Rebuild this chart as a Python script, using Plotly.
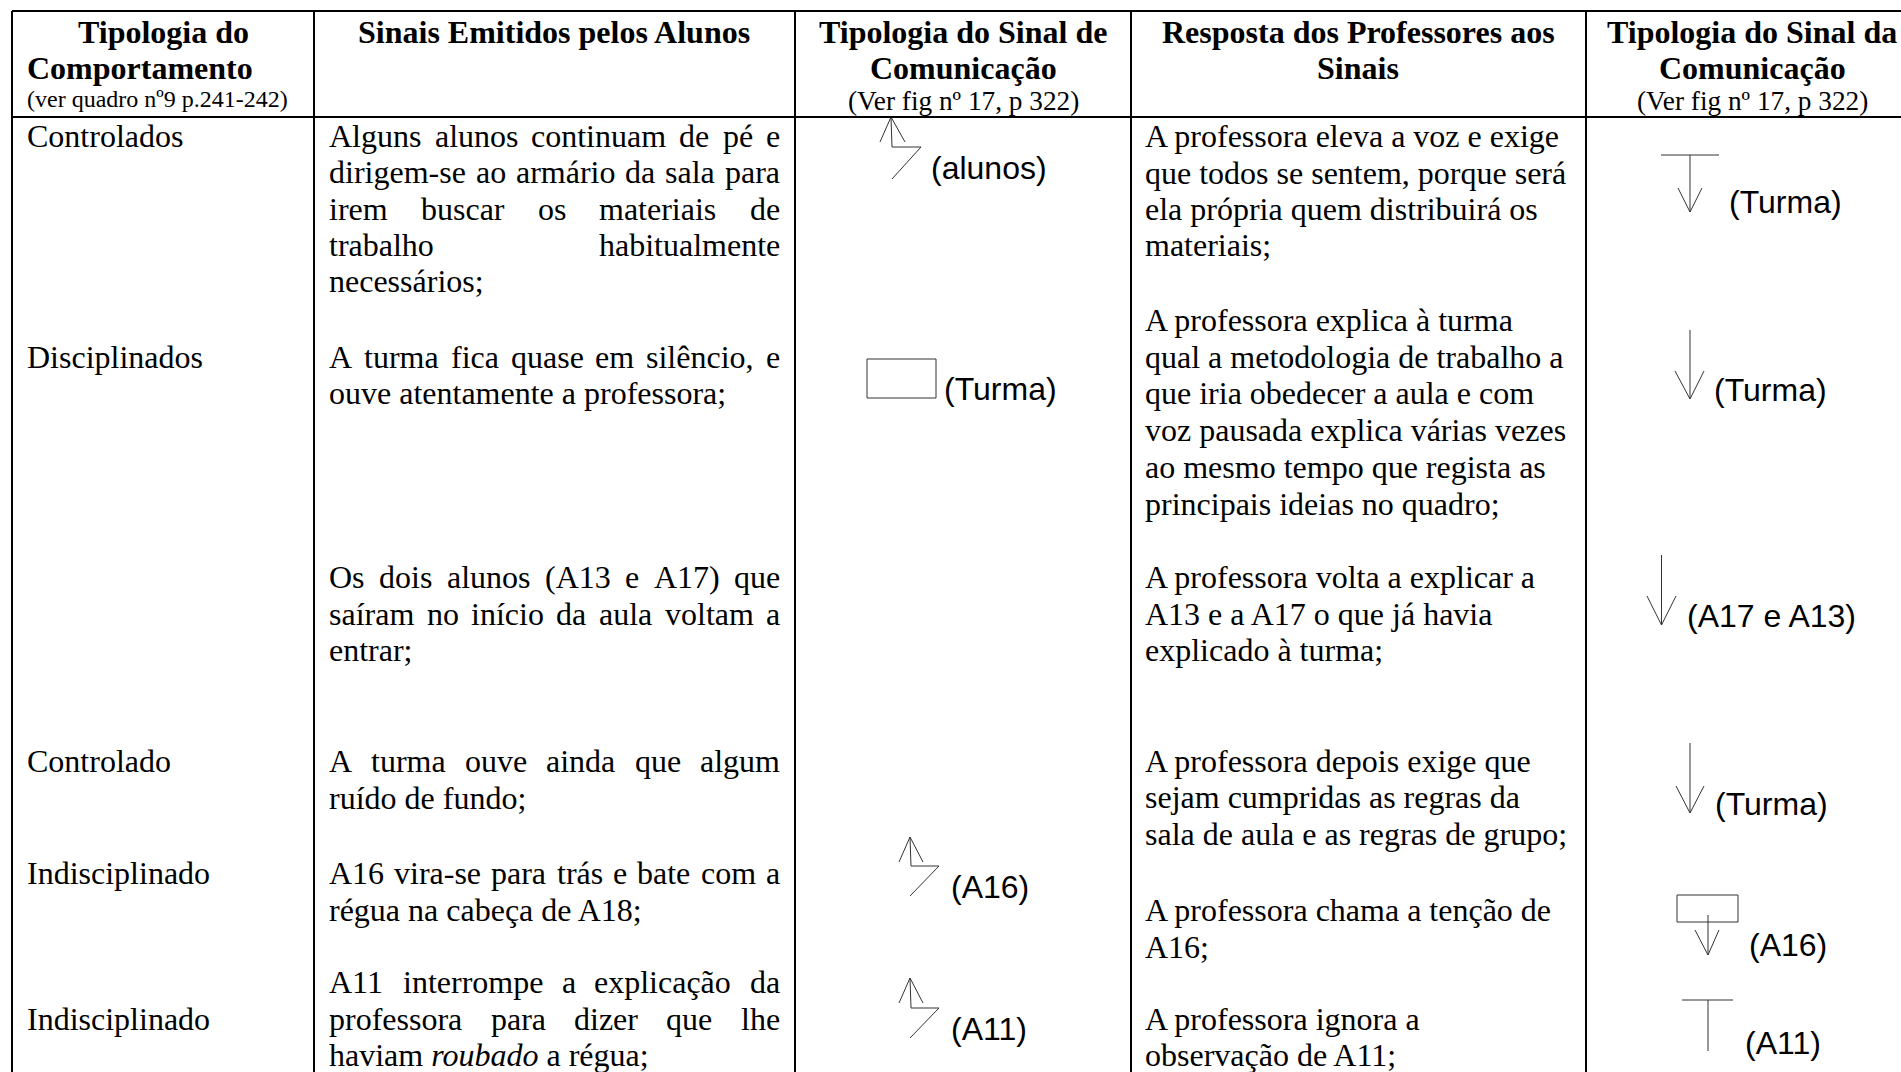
import unicodedata
import plotly.graph_objects as go

WIDTH, HEIGHT = 1901, 1072
SERIF, SANS = "Liberation Serif", "Liberation Sans"
INK = "#000000"
BODY_SIZE, SUB_SIZE, REF_SIZE, LABEL_SIZE = 32, 24, 27.3, 32

# --- table grid
COLUMN_EDGES = [12, 314, 795, 1131, 1586]
ROW_EDGES = [11, 117]

# --- header
HEAD_CENTERED = [
    ("Tipologia do", 163, 32), ("Sinais Emitidos pelos Alunos", 554, 32),
    ("Tipologia do Sinal de", 963, 32), ("Comunicação", 963, 68),
    ("Resposta dos Professores aos", 1358, 32), ("Sinais", 1358, 68),
    ("Tipologia do Sinal da", 1752, 32), ("Comunicação", 1752, 68),
]
HEAD_LEFT = [("Comportamento", 27, 68)]
SUB_HEAD = [("(ver quadro nº9 p.241-242)", 27, "left", 99, SUB_SIZE),
            ("(Ver fig nº 17, p 322)", 963, "center", 101, REF_SIZE),
            ("(Ver fig nº 17, p 322)", 1752, "center", 101, REF_SIZE)]

# --- column 1
BEHAVIOUR = ["Controlados", "Disciplinados", "Controlado", "Indisciplinado", "Indisciplinado"]
BEHAVIOUR_Y = [136, 357, 761, 873, 1019]
BEHAVIOUR_X = 27

# --- column 2: (text, justified?)
SIGNALS = [
    ("Alguns alunos continuam de pé e", True), ("dirigem-se ao armário da sala para", True),
    ("irem buscar os materiais de", True), ("trabalho habitualmente", True), ("necessários;", False),
    ("A turma fica quase em silêncio, e", True), ("ouve atentamente a professora;", False),
    ("Os dois alunos (A13 e A17) que", True), ("saíram no início da aula voltam a", True), ("entrar;", False),
    ("A turma ouve ainda que algum", True), ("ruído de fundo;", False),
    ("A16 vira-se para trás e bate com a", True), ("régua na cabeça de A18;", False),
    ("A11 interrompe a explicação da", True), ("professora para dizer que lhe", True),
    ("haviam <i>roubado</i> a régua;", False),
]
SIGNALS_Y = [136, 172, 209, 245, 281, 357, 393, 577, 614, 650, 761, 798, 873, 910, 982, 1019, 1055]
SIGNALS_LEFT, SIGNALS_RIGHT = 329, 780

# --- column 4
RESPONSES = [
    "A professora eleva a voz e exige", "que todos se sentem, porque será",
    "ela própria quem distribuirá os", "materiais;",
    "A professora explica à turma", "qual a metodologia de trabalho a", "que iria obedecer a aula e com",
    "voz pausada explica várias vezes", "ao mesmo tempo que regista as", "principais ideias no quadro;",
    "A professora volta a explicar a", "A13 e a A17 o que já havia", "explicado à turma;",
    "A professora depois exige que", "sejam cumpridas as regras da", "sala de aula e as regras de grupo;",
    "A professora chama a tenção de", "A16;",
    "A professora ignora a", "observação de A11;",
]
RESPONSES_Y = [136, 173, 209, 245, 320, 357, 393, 430, 467, 504, 577, 614, 650, 761, 797, 834, 910, 947, 1019, 1055]
RESPONSES_X = 1145

# --- sign labels (columns 3 and 5)
SIGN_LABELS = ["(alunos)", "(Turma)", "(A16)", "(A11)",
               "(Turma)", "(Turma)", "(A17 e A13)", "(Turma)", "(A16)", "(A11)"]
SIGN_LABEL_X = [931, 944, 951, 951, 1729, 1714, 1687, 1715, 1749, 1745]
SIGN_LABEL_Y = [168, 389, 887, 1029, 202, 390, 616, 804, 945, 1043]

# --- hand-drawn signs, one polyline each
SIGN_X = [
    [880, 891, 905], [891, 892, 921, 892],
    [867, 936, 936, 867, 867],
    [899, 910, 923], [910, 911, 939, 910],
    [899, 910, 923], [910, 911, 939, 910],
    [1661, 1719], [1690, 1690], [1678, 1690, 1702],
    [1690, 1690], [1675, 1690, 1704],
    [1661.5, 1661.5], [1647, 1661.5, 1676],
    [1690, 1690], [1676, 1690, 1704],
    [1677, 1738, 1738, 1677, 1677], [1708, 1708], [1695, 1708, 1719],
    [1682, 1733], [1708, 1708],
]
SIGN_Y = [
    [142, 117, 142], [117, 147, 147, 179],
    [359, 359, 398, 398, 359],
    [862, 837, 862], [837, 866, 866, 896],
    [1003, 978, 1003], [978, 1008, 1008, 1038],
    [155, 155], [155, 212], [188, 212, 188],
    [330, 399], [371, 399, 371],
    [555, 625], [596, 625, 596],
    [743, 813], [786, 813, 786],
    [895, 895, 922, 922, 895], [915, 955], [930, 955, 930],
    [1000, 1000], [1000, 1051],
]

# Times advance widths, used only to spread justified words across the cell
TIMES = dict(zip("abcdefghijklmnopqrstuvwxyz",
                 [.444, .5, .444, .5, .444, .333, .5, .5, .278, .278, .5, .278, .778,
                  .5, .5, .5, .5, .333, .389, .278, .5, .5, .722, .5, .5, .444]))
TIMES.update({"A": .722, "O": .722, "-": .333, "(": .333, ")": .333, ",": .25, ";": .278})


def word_width(word):
    plain = unicodedata.normalize("NFD", word)
    return BODY_SIZE * sum(.5 if c.isdigit() else TIMES.get(c, 0) for c in plain)


annotations = []


def text(t, x, y, family=SERIF, size=BODY_SIZE, anchor="left", bold=False):
    if bold:
        t = f"<b>{t}</b>"
    annotations.append(dict(text=t, x=x, y=y, xref="x", yref="y", xanchor=anchor, yanchor="middle",
                            showarrow=False, borderpad=0, borderwidth=0,
                            font=dict(family=family, size=size, color=INK)))


for t, x, y in HEAD_CENTERED:
    text(t, x, y, anchor="center", bold=True)
for t, x, y in HEAD_LEFT:
    text(t, x, y, bold=True)
for t, x, a, y, s in SUB_HEAD:
    text(t, x, y, size=s, anchor=a)
for t, y in zip(BEHAVIOUR, BEHAVIOUR_Y):
    text(t, BEHAVIOUR_X, y)
for (t, just), y in zip(SIGNALS, SIGNALS_Y):
    if not just:
        text(t, SIGNALS_LEFT, y)
        continue
    words = t.split(" ")
    widths = [word_width(w) for w in words]
    gap = (SIGNALS_RIGHT - SIGNALS_LEFT - sum(widths)) / (len(words) - 1)
    x = SIGNALS_LEFT
    for w, wd in zip(words, widths):
        text(w, x, y)
        x += wd + gap
for t, y in zip(RESPONSES, RESPONSES_Y):
    text(t, RESPONSES_X, y)
for t, x, y in zip(SIGN_LABELS, SIGN_LABEL_X, SIGN_LABEL_Y):
    text(t, x, y, family=SANS, size=LABEL_SIZE)

fig = go.Figure()
for xs, ys in zip(SIGN_X, SIGN_Y):
    fig.add_trace(go.Scatter(x=xs, y=ys, mode="lines", hoverinfo="skip",
                             line=dict(color="#333333", width=1)))

shapes = []
for x in COLUMN_EDGES:
    shapes.append(dict(type="line", xref="x", yref="y", x0=x, x1=x, y0=ROW_EDGES[0], y1=HEIGHT,
                       line=dict(color=INK, width=2)))
for y in ROW_EDGES:
    shapes.append(dict(type="line", xref="x", yref="y", x0=COLUMN_EDGES[0], x1=WIDTH, y0=y, y1=y,
                       line=dict(color=INK, width=2)))

fig.update_layout(
    width=WIDTH, height=HEIGHT, margin=dict(l=0, r=0, t=0, b=0), showlegend=False,
    paper_bgcolor="white", plot_bgcolor="white", annotations=annotations, shapes=shapes,
    xaxis=dict(range=[0, WIDTH], visible=False, fixedrange=True),
    yaxis=dict(range=[HEIGHT, 0], visible=False, fixedrange=True),
)
fig.write_html("out.html", config={"displayModeBar": False},
               post_script="document.body.style.margin='0';document.body.style.overflow='hidden';")
